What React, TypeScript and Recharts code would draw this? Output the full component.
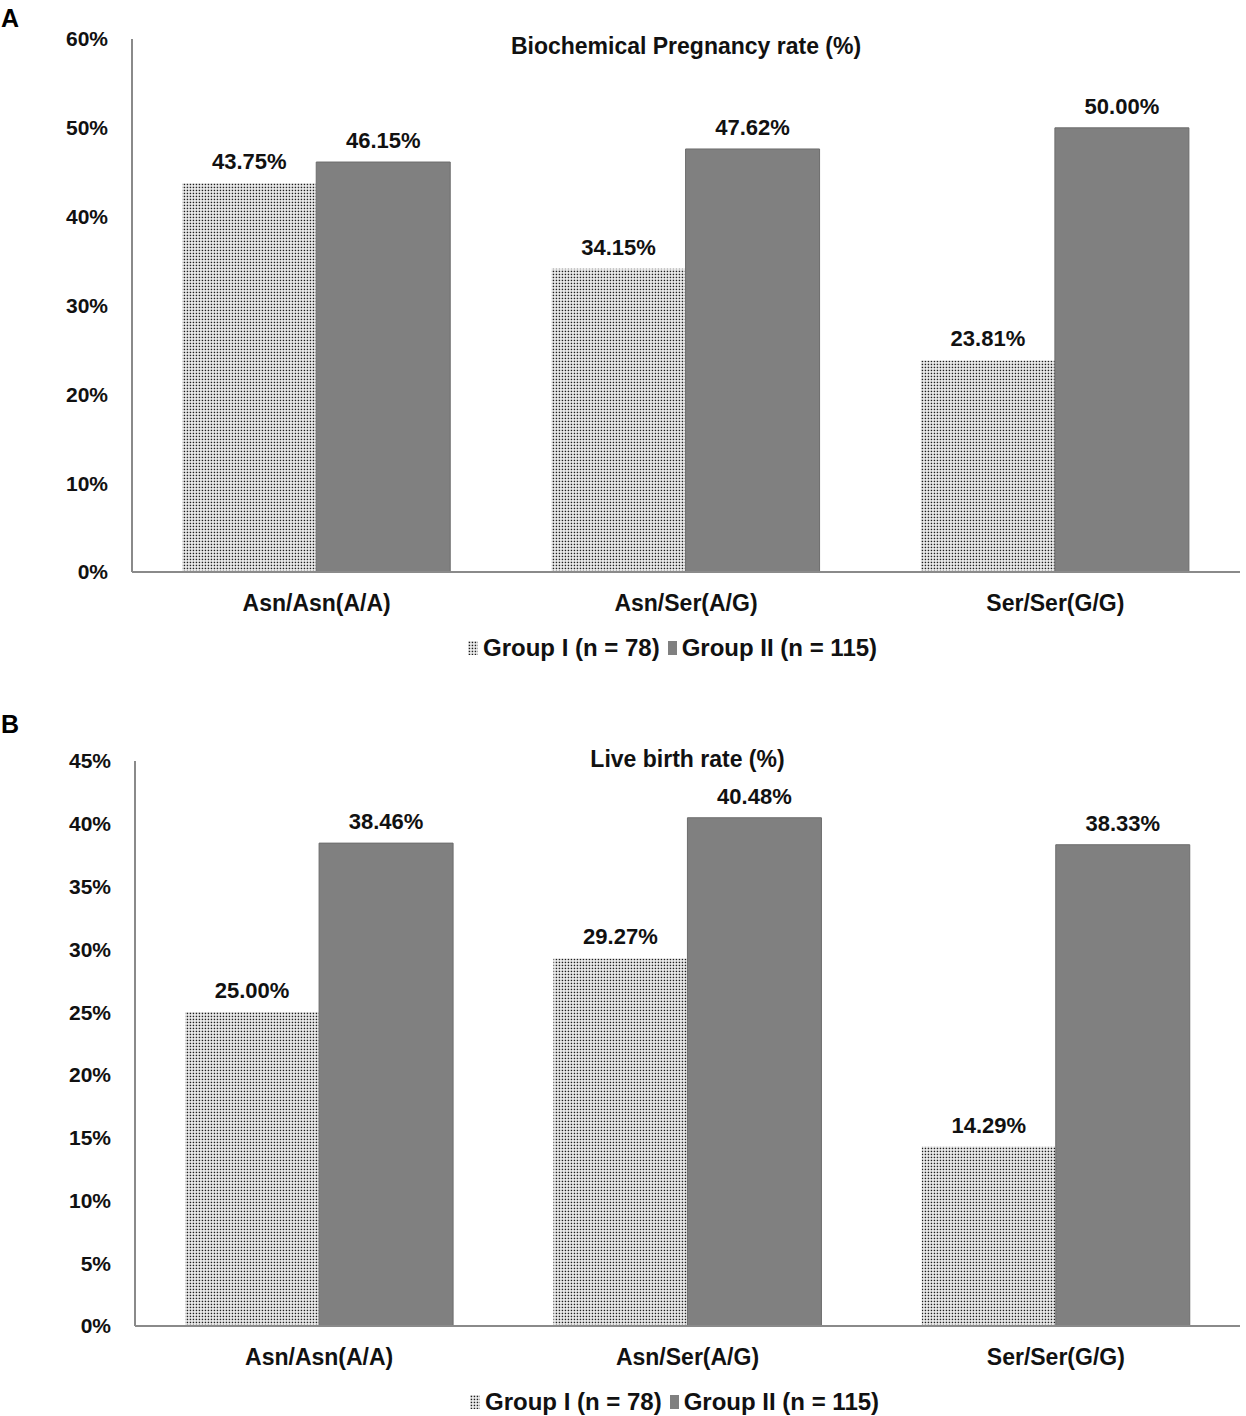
import { BarChart, Bar, XAxis, YAxis, LabelList } from 'recharts';

const categories = ['Asn/Asn(A/A)', 'Asn/Ser(A/G)', 'Ser/Ser(G/G)'];
const pregnancyGroupI = [43.75, 34.15, 23.81];
const pregnancyGroupII = [46.15, 47.62, 50.0];
const liveBirthGroupI = [25.0, 29.27, 14.29];
const liveBirthGroupII = [38.46, 40.48, 38.33];
const pregnancyTicks = [0, 10, 20, 30, 40, 50, 60];
const liveBirthTicks = [0, 5, 10, 15, 20, 25, 30, 35, 40, 45];
const seriesNames = ['Group I (n = 78)', 'Group II (n = 115)'];

const FONT = '"Liberation Sans", Arial, sans-serif';
const AXIS_COLOR = '#8a8a8a';
const BAR_GREY = '#808080';

function DotPattern({ id }: { id: string }) {
  return (
    <pattern id={id} patternUnits="userSpaceOnUse" width="3" height="3">
      <rect width="3" height="3" fill="#f4f4f4" />
      <rect x="0.7" y="0.7" width="1.5" height="1.5" fill="#1e1e1e" />
    </pattern>
  );
}

interface PanelProps {
  id: string;
  letter: string;
  title: string;
  groupI: number[];
  groupII: number[];
  ticks: number[];
  top: number;
  axisLeft: number;
  plotTop: number;
  plotBottom: number;
  titleCenter: number;
  legendLeft: number;
}

function Panel({ id, letter, title, groupI, groupII, ticks, top, axisLeft, plotTop, plotBottom, titleCenter, legendLeft }: PanelProps) {
  const data = categories.map((c, i) => ({ name: c, g1: groupI[i], g2: groupII[i] }));
  const chartTop = top;
  const xAxisHeight = 70;
  const height = plotBottom - chartTop + xAxisHeight;
  const width = 1246;
  const rightEdge = 1240;
  const textStyle = { fontFamily: FONT, fontWeight: 700, fill: '#111' };

  return (
    <>
      <div style={{ position: 'absolute', left: 1, top: chartTop + (letter === 'A' ? 4 : 10), fontFamily: FONT, fontWeight: 700, fontSize: 25, color: '#000' }}>
        {letter}
      </div>
      <div style={{ position: 'absolute', left: 0, top: chartTop }}>
        <BarChart
          width={width}
          height={height}
          data={data}
          margin={{ top: plotTop - chartTop, right: width - rightEdge, left: 0, bottom: 0 }}
          barCategoryGap="13.6%"
          barGap={0}
        >
          <defs>
            <DotPattern id={`dots-${id}`} />
          </defs>
          <XAxis
            dataKey="name"
            height={xAxisHeight}
            tickLine={false}
            tickSize={0}
            tickMargin={23}
            axisLine={{ stroke: AXIS_COLOR, strokeWidth: 2 }}
            tick={{ ...textStyle, fontSize: 23 }}
            interval={0}
          />
          <YAxis
            width={axisLeft}
            domain={[ticks[0], ticks[ticks.length - 1]]}
            ticks={ticks}
            tickFormatter={(v: number) => `${v}%`}
            tickLine={false}
            tickSize={0}
            tickMargin={24}
            axisLine={{ stroke: AXIS_COLOR, strokeWidth: 2 }}
            tick={{ ...textStyle, fontSize: 21 }}
          />
          <Bar dataKey="g1" name={seriesNames[0]} fill={`url(#dots-${id})`} isAnimationActive={false}>
            <LabelList
              dataKey="g1"
              position="top"
              offset={14}
              formatter={(v: number) => `${v.toFixed(2)}%`}
              style={{ ...textStyle, fontSize: 22 }}
            />
          </Bar>
          <Bar dataKey="g2" name={seriesNames[1]} fill={BAR_GREY} stroke="#6c6c6c" strokeWidth={1} isAnimationActive={false}>
            <LabelList
              dataKey="g2"
              position="top"
              offset={14}
              formatter={(v: number) => `${v.toFixed(2)}%`}
              style={{ ...textStyle, fontSize: 22 }}
            />
          </Bar>
        </BarChart>
      </div>
      <div
        style={{
          position: 'absolute',
          left: axisLeft,
          width: rightEdge - axisLeft,
          top: titleCenter - 13,
          lineHeight: '26px',
          textAlign: 'center',
          fontFamily: FONT,
          fontWeight: 700,
          fontSize: 23,
          color: '#111',
        }}
      >
        {title}
      </div>
      <div
        style={{
          position: 'absolute',
          left: legendLeft,
          top: plotBottom + 62,
          display: 'flex',
          alignItems: 'center',
          fontFamily: FONT,
          fontWeight: 700,
          fontSize: 24,
          color: '#111',
          whiteSpace: 'nowrap',
        }}
      >
        <svg width={10} height={14} style={{ marginRight: 5 }}>
          <defs>
            <DotPattern id={`legend-dots-${id}`} />
          </defs>
          <rect width={10} height={14} fill={`url(#legend-dots-${id})`} />
        </svg>
        <span>{seriesNames[0]}</span>
        <svg width={9} height={14} style={{ marginLeft: 8, marginRight: 5 }}>
          <rect width={9} height={14} fill={BAR_GREY} />
        </svg>
        <span>{seriesNames[1]}</span>
      </div>
    </>
  );
}

export default function App() {
  return (
    <div style={{ position: 'absolute', left: 0, top: 0, width: 1246, height: 1416, background: '#fff', overflow: 'hidden' }}>
      <Panel
        id="a"
        letter="A"
        title="Biochemical Pregnancy rate (%)"
        groupI={pregnancyGroupI}
        groupII={pregnancyGroupII}
        ticks={pregnancyTicks}
        top={0}
        axisLeft={132}
        plotTop={39}
        plotBottom={572}
        titleCenter={46}
        legendLeft={468}
      />
      <Panel
        id="b"
        letter="B"
        title="Live birth rate (%)"
        groupI={liveBirthGroupI}
        groupII={liveBirthGroupII}
        ticks={liveBirthTicks}
        top={700}
        axisLeft={135}
        plotTop={761}
        plotBottom={1326}
        titleCenter={759}
        legendLeft={470}
      />
    </div>
  );
}
